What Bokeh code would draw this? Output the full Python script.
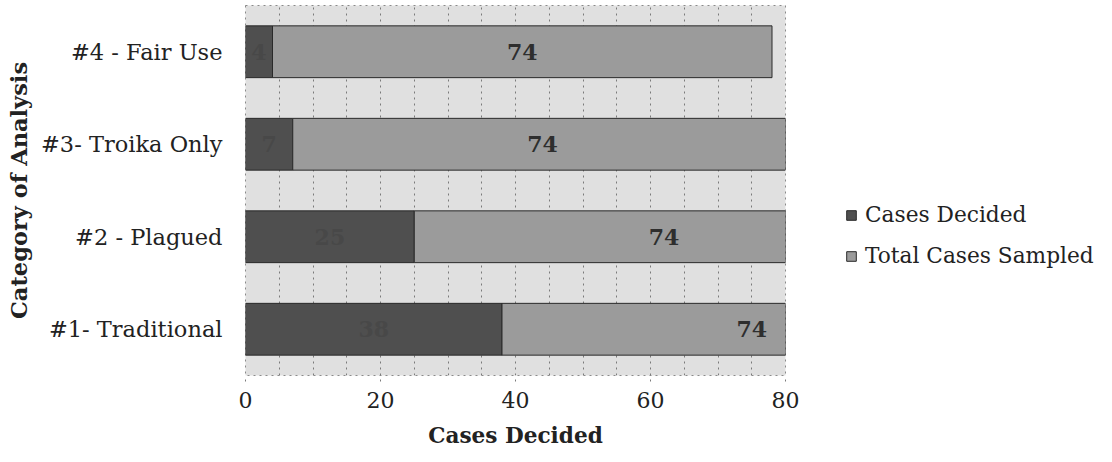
from bokeh.plotting import figure
from bokeh.layouts import row
from bokeh.models import ColumnDataSource, Range1d, FactorRange, FixedTicker, SingleIntervalTicker, Grid, Legend
from bokeh.embed import file_html
from bokeh.resources import INLINE
from bokeh.core.properties import value

categories = ["#1- Traditional", "#2 - Plagued", "#3- Troika Only", "#4 - Fair Use"]
cases_decided = [38, 25, 7, 4]
total_sampled = [74, 74, 74, 74]
x_ticks = [0, 20, 40, 60, 80]
series_names = ["Cases Decided", "Total Cases Sampled"]

FONT = "DejaVu Serif"
C_DEC = "#4f4f4f"
C_TOT = "#9b9b9b"

source = ColumnDataSource(dict(
    cat=categories,
    decided=cases_decided,
    total=total_sampled,
    dec_mid=[d / 2 for d in cases_decided],
    tot_mid=[d + t / 2 for d, t in zip(cases_decided, total_sampled)],
    dec_lbl=[str(d) for d in cases_decided],
    tot_lbl=[str(t) for t in total_sampled],
))

p = figure(width=800, height=462, output_backend="svg", toolbar_location=None,
           y_range=FactorRange(*categories), x_range=Range1d(0, 80),
           min_border_left=245, min_border_right=15, min_border_top=5, min_border_bottom=87)

p.background_fill_color = "#e0e0e0"
p.border_fill_color = "white"
p.outline_line_color = "#8a8a8a"
p.outline_line_dash = "dotted"

p.xgrid.visible = False
p.ygrid.visible = False
grid = Grid(dimension=0, ticker=SingleIntervalTicker(interval=5),
            grid_line_color="#7a7a7a", grid_line_dash="dotted", grid_line_width=1)
p.add_layout(grid)

renderers = p.hbar_stack(["decided", "total"], y="cat", height=0.56, source=source,
                         color=[C_DEC, C_TOT], line_color="#2a2a2a", line_width=1)

p.text(x="dec_mid", y="cat", text="dec_lbl", source=source, text_align="center",
       text_baseline="middle", text_font=value(FONT), text_font_size="22px",
       text_font_style="bold", text_color="#484848")
p.text(x="tot_mid", y="cat", text="tot_lbl", source=source, text_align="center",
       text_baseline="middle", text_font=value(FONT), text_font_size="22px",
       text_font_style="bold", text_color="#2e2e2e")

# axes
p.xaxis.ticker = FixedTicker(ticks=x_ticks)
p.xaxis.axis_line_color = None
p.xaxis.major_tick_line_color = "#7a7a7a"
p.xaxis.major_tick_line_dash = "dotted"
p.xaxis.major_tick_out = 6
p.xaxis.major_tick_in = 0
p.xaxis.minor_tick_line_color = None
p.xaxis.major_label_text_font = FONT
p.xaxis.major_label_text_font_size = "22px"
p.xaxis.major_label_text_color = "#222222"
p.xaxis.major_label_standoff = 10
p.xaxis.axis_label = "Cases Decided"
p.xaxis.axis_label_text_font = FONT
p.xaxis.axis_label_text_font_size = "21.6px"
p.xaxis.axis_label_text_font_style = "bold"
p.xaxis.axis_label_text_color = "#222222"
p.xaxis.axis_label_standoff = 12

p.yaxis.axis_line_color = None
p.yaxis.major_tick_line_color = None
p.yaxis.minor_tick_line_color = None
p.yaxis.major_tick_out = 0
p.yaxis.major_tick_in = 0
p.yaxis.major_label_text_font = FONT
p.yaxis.major_label_text_font_size = "22.5px"
p.yaxis.major_label_text_color = "#222222"
p.yaxis.major_label_standoff = 23
p.yaxis.axis_label = "Category of Analysis"
p.yaxis.axis_label_text_font = FONT
p.yaxis.axis_label_text_font_size = "22.5px"
p.yaxis.axis_label_text_font_style = "bold"
p.yaxis.axis_label_text_color = "#222222"
p.yaxis.axis_label_standoff = 6

# legend panel (separate figure to the right of the chart)
lg = figure(width=312, height=462, output_backend="svg", toolbar_location=None,
            x_range=Range1d(0, 1), y_range=Range1d(0, 1),
            min_border_left=0, min_border_right=0, min_border_top=0, min_border_bottom=0)
lg.axis.visible = False
lg.grid.visible = False
lg.outline_line_color = None
lg.background_fill_color = "white"
# proxy renderers placed outside the visible range, used only for legend swatches
d1 = lg.hbar(y=[5], left=[5], right=[6], height=0.5, color=C_DEC, line_color="#2a2a2a")
d2 = lg.hbar(y=[5], left=[5], right=[6], height=0.5, color=C_TOT, line_color="#2a2a2a")

legend = Legend(items=[(series_names[0], [d1]), (series_names[1], [d2])],
                location=(45, 107), orientation="vertical",
                glyph_width=12, glyph_height=12, label_standoff=8,
                label_height=20, spacing=16, padding=0, margin=0,
                border_line_color=None, background_fill_alpha=0,
                label_text_font=FONT, label_text_font_size="21.7px", label_text_color="#222222")
lg.add_layout(legend, "center")

layout = row(p, lg, spacing=0)
open("out.html", "w").write(file_html(layout, INLINE))
